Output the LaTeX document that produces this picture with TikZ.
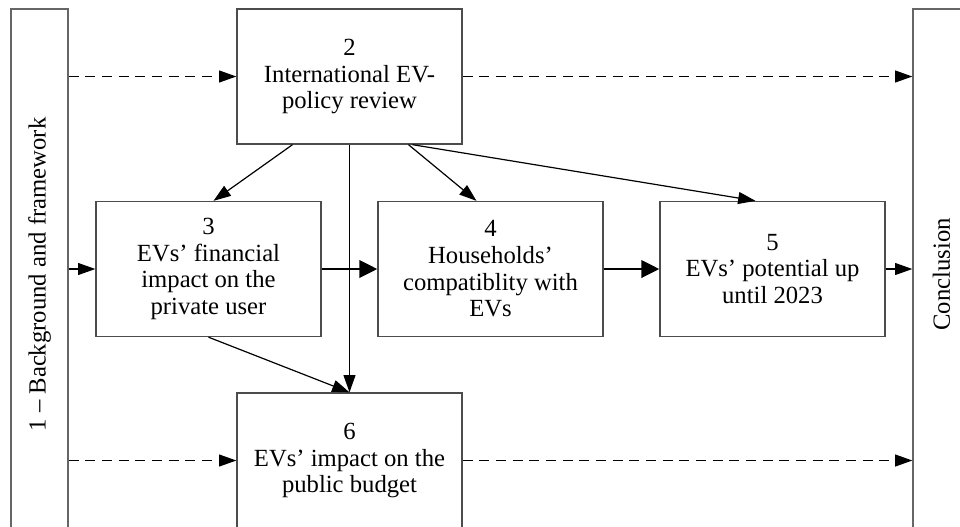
\documentclass[tikz,border=0pt]{standalone}
\usepackage{fontspec}
\setmainfont{Liberation Serif}
\usetikzlibrary{arrows.meta,calc}

\begin{document}
\begin{tikzpicture}[x=.75pt,y=-.75pt,line width=.9pt,>={Triangle[length=13pt,width=9pt]},
  box/.style={draw=black!70,line width=1pt,minimum width=168.75pt,minimum height=101.25pt,inner sep=0pt,align=center,font=\fontsize{18.5}{20}\selectfont},
  bar/.style={draw=black!60,line width=1pt,minimum width=42.75pt,minimum height=398.25pt,inner sep=0pt},
  barlabel/.style={rotate=90,font=\fontsize{18.5}{20}\selectfont},
  heavy/.style={line width=2.2pt,-{Triangle[length=13.5pt,width=13pt]}},
  skipline/.style={dash pattern=on 7.5pt off 5pt}]
\useasboundingbox (0,0) rectangle (960,526);
\clip (0,0) rectangle (960,526);

\node[bar] (s1) at (39.5,274.5) {};
\node[barlabel] (l1) at (s1) {1 -- Background and framework};

\node[bar] (s7) at (941.5,274.5) {};
\node[barlabel] (l7) at (s7) {Conclusion};

\node[box] (s2) at (349.5,76.5) {2\\International EV-\\policy review};
\node[box] (s3) at (208.5,269) {3\\EVs' financial\\impact on the\\private user};
\node[box] (s4) at (490.5,269) {4\\Households'\\compatiblity with\\EVs};
\node[box] (s5) at (772.5,269) {5\\EVs' potential up\\until 2023};
\node[box] (s6) at (349.5,460.5) {6\\EVs' impact on the\\public budget};

% dashed lines past the chapters
\draw[skipline,->] (s1.east |- s2.west) -- (s2.west);
\draw[skipline,->] (s2.east) -- (s7.west |- s2.east);
\draw[skipline,->] (s1.east |- s6.west) -- (s6.west);
\draw[skipline,->] (s6.east) -- (s7.west |- s6.east);

\draw[->] (s1.east |- s3.west) -- (s3.west);
\draw[->] (s5.east) -- (s7.west |- s5.east);

\draw[heavy] (s3.east) -- (s4.west);
\draw[heavy] (s4.east) -- (s5.west);

\draw[->] ($(s2.south)+(-57,0)$) -- ($(s3.north)+(5,0)$);
\draw[->] (s2.south) -- (s6.north);
\draw[->] ($(s2.south)+(59,0)$) -- ($(s4.north)+(-14,0)$);
\draw[->] ($(s2.south)+(63,0)$) -- ($(s5.north)+(-17,0)$);
\draw[->] (s3.south) -- (s6.north);

\end{tikzpicture}
\end{document}
